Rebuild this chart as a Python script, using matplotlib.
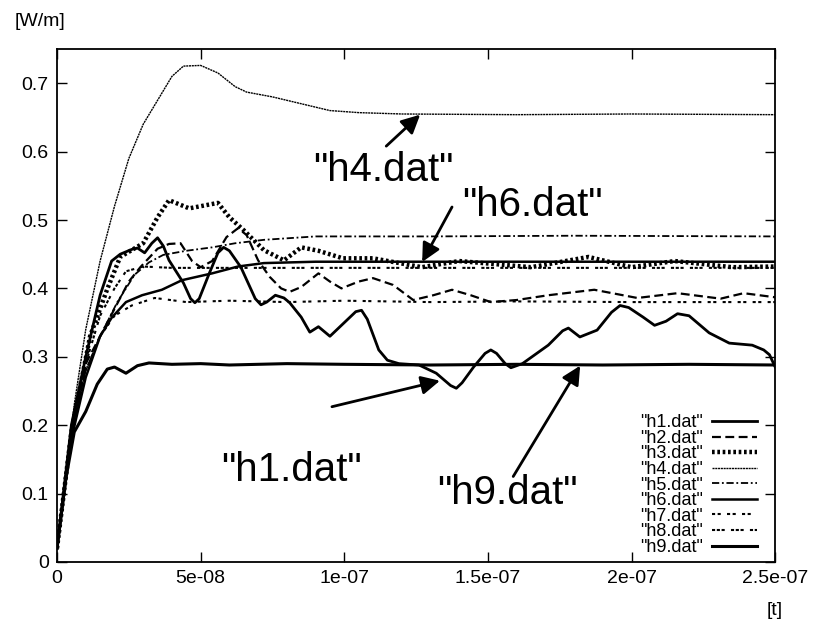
import matplotlib
matplotlib.use('Agg')
import matplotlib.pyplot as plt

plt.rcParams['font.family'] = ['Liberation Sans', 'DejaVu Sans']

# time [t] and power [W/m]
t1 = [0, 5e-9, 1e-8, 1.5e-8, 1.9e-8, 2.2e-8, 2.6e-8, 2.8e-8, 3.05e-8, 3.3e-8, 3.5e-8,
      3.7e-8, 3.9e-8, 4.4e-8, 4.65e-8, 4.8e-8, 4.95e-8, 5.3e-8, 5.6e-8, 5.8e-8, 6.0e-8,
      6.4e-8, 6.9e-8, 7.1e-8, 7.3e-8, 7.6e-8, 7.9e-8, 8.1e-8, 8.5e-8, 8.8e-8,
      9.1e-8, 9.5e-8, 1.0e-7, 1.04e-7, 1.06e-7, 1.08e-7, 1.12e-7, 1.15e-7, 1.19e-7,
      1.26e-7, 1.32e-7, 1.37e-7, 1.39e-7, 1.41e-7, 1.45e-7, 1.49e-7, 1.51e-7, 1.53e-7,
      1.56e-7, 1.58e-7, 1.62e-7, 1.71e-7, 1.76e-7, 1.78e-7, 1.82e-7, 1.88e-7,
      1.93e-7, 1.96e-7, 1.99e-7, 2.04e-7, 2.08e-7, 2.12e-7, 2.16e-7, 2.2e-7, 2.27e-7,
      2.34e-7, 2.42e-7, 2.46e-7, 2.48e-7, 2.5e-7]
h1 = [0.02, 0.20, 0.30, 0.39, 0.44, 0.45, 0.457, 0.459, 0.452, 0.466, 0.474,
      0.462, 0.441, 0.408, 0.385, 0.379, 0.385, 0.422, 0.452, 0.46, 0.455,
      0.431, 0.385, 0.376, 0.38, 0.39, 0.386, 0.379, 0.358, 0.336,
      0.344, 0.33, 0.35, 0.366, 0.368, 0.355, 0.31, 0.295, 0.29,
      0.288, 0.276, 0.258, 0.254, 0.262, 0.285, 0.305, 0.31, 0.305,
      0.29, 0.284, 0.29, 0.317, 0.338, 0.342, 0.329, 0.339,
      0.365, 0.375, 0.372, 0.358, 0.346, 0.352, 0.363, 0.36, 0.335,
      0.32, 0.317, 0.31, 0.303, 0.285]

t2 = [0, 5e-9, 1e-8, 1.5e-8, 2e-8, 2.5e-8, 2.9e-8, 3.5e-8, 3.9e-8, 4.3e-8, 4.7e-8,
      5.0e-8, 5.4e-8, 5.9e-8, 6.3e-8, 6.6e-8, 7e-8, 7.4e-8, 7.8e-8, 8.1e-8, 8.5e-8,
      9.1e-8, 9.5e-8, 9.9e-8, 1.05e-7, 1.1e-7, 1.17e-7, 1.24e-7, 1.31e-7, 1.375e-7,
      1.44e-7, 1.51e-7, 1.6e-7, 1.71e-7, 1.87e-7, 2.02e-7, 2.16e-7, 2.31e-7, 2.39e-7,
      2.5e-7]
h2 = [0.02, 0.19, 0.29, 0.33, 0.37, 0.41, 0.431, 0.458, 0.465, 0.466, 0.44,
      0.431, 0.44, 0.475, 0.488, 0.478, 0.441, 0.417, 0.4, 0.395, 0.402,
      0.422, 0.41, 0.40, 0.41, 0.415, 0.405, 0.383, 0.39, 0.398,
      0.39, 0.38, 0.383, 0.39, 0.398, 0.386, 0.393, 0.385, 0.393,
      0.387]

t3 = [0, 5e-9, 1.15e-8, 1.74e-8, 2.2e-8, 3.0e-8, 3.5e-8, 3.9e-8, 4.6e-8, 5.6e-8, 6.0e-8,
      6.5e-8, 7.2e-8, 7.9e-8, 8.5e-8, 9.1e-8, 9.95e-8, 1.1e-7, 1.27e-7, 1.4e-7, 1.65e-7,
      1.85e-7, 2.0e-7, 2.15e-7, 2.35e-7, 2.5e-7]
h3 = [0.02, 0.19, 0.33, 0.398, 0.446, 0.466, 0.504, 0.529, 0.517, 0.525, 0.504,
      0.485, 0.456, 0.441, 0.46, 0.455, 0.444, 0.444, 0.431, 0.44, 0.431,
      0.446, 0.431, 0.44, 0.431, 0.432]

t4 = [0, 3e-9, 6e-9, 1e-8, 1.5e-8, 2e-8, 2.5e-8, 3e-8, 3.5e-8, 4e-8, 4.4e-8, 5e-8,
      5.6e-8, 6.2e-8, 6.6e-8, 7.5e-8, 8.5e-8, 9.5e-8, 1.05e-7, 1.2e-7, 1.6e-7, 2e-7, 2.5e-7]
h4 = [0.02, 0.13, 0.23, 0.34, 0.44, 0.52, 0.59, 0.64, 0.675, 0.71, 0.725, 0.726,
      0.715, 0.695, 0.687, 0.68, 0.67, 0.66, 0.657, 0.655, 0.654, 0.655, 0.654]

t5 = [0, 5e-9, 1e-8, 1.5e-8, 2.1e-8, 2.7e-8, 3.2e-8, 3.7e-8, 4.5e-8, 5.4e-8, 6.2e-8,
      7.2e-8, 9e-8, 1.3e-7, 1.8e-7, 2.5e-7]
h5 = [0.02, 0.19, 0.28, 0.33, 0.38, 0.42, 0.438, 0.449, 0.455, 0.46, 0.466,
      0.471, 0.476, 0.476, 0.477, 0.476]

t6 = [0, 5e-9, 1e-8, 1.5e-8, 1.9e-8, 2.4e-8, 2.96e-8, 3.65e-8, 4.35e-8, 5.4e-8, 6.3e-8,
      7.2e-8, 9e-8, 1.2e-7, 1.8e-7, 2.5e-7]
h6 = [0.02, 0.18, 0.27, 0.33, 0.357, 0.38, 0.39, 0.398, 0.412, 0.422, 0.432,
      0.437, 0.439, 0.439, 0.439, 0.439]

t7 = [0, 5e-9, 1e-8, 1.5e-8, 2e-8, 2.6e-8, 3.4e-8, 4.5e-8, 6e-8, 8e-8, 1e-7,
      1.3e-7, 1.6e-7, 2e-7, 2.5e-7]
h7 = [0.02, 0.19, 0.28, 0.33, 0.36, 0.375, 0.386, 0.38, 0.382, 0.38, 0.382,
      0.38, 0.381, 0.38, 0.38]

t8 = [0, 5e-9, 1e-8, 1.5e-8, 2e-8, 2.4e-8, 3e-8, 4e-8, 6e-8, 1e-7, 1.5e-7, 2e-7, 2.5e-7]
h8 = [0.02, 0.19, 0.29, 0.36, 0.40, 0.425, 0.432, 0.43, 0.43, 0.43, 0.43, 0.43, 0.43]

t9 = [0, 3e-9, 6e-9, 1e-8, 1.4e-8, 1.75e-8, 2e-8, 2.4e-8, 2.8e-8, 3.2e-8, 4e-8, 5e-8,
      6e-8, 8e-8, 1e-7, 1.3e-7, 1.6e-7, 1.9e-7, 2.2e-7, 2.5e-7]
h9 = [0.02, 0.12, 0.19, 0.22, 0.26, 0.282, 0.285, 0.276, 0.287, 0.291, 0.289, 0.29,
      0.288, 0.29, 0.289, 0.288, 0.289, 0.288, 0.289, 0.288]

xticks = [0, 5e-8, 1e-7, 1.5e-7, 2e-7, 2.5e-7]
xticklabels = ['0', '5e-08', '1e-07', '1.5e-07', '2e-07', '2.5e-07']
yticks = [0, 0.1, 0.2, 0.3, 0.4, 0.5, 0.6, 0.7]
yticklabels = ['0', '0.1', '0.2', '0.3', '0.4', '0.5', '0.6', '0.7']

fig = plt.figure(figsize=(8.3, 6.22), dpi=100)
ax = fig.add_axes([0.0687, 0.0965, 0.8653, 0.8247])

ax.plot(t1, h1, color='black', lw=2.0, label='"h1.dat"')
ax.plot(t2, h2, color='black', lw=1.6, dashes=(4, 2), label='"h2.dat"')
ax.plot(t3, h3, color='black', lw=3.2, dashes=(0.6, 0.6), label='"h3.dat"')
ax.plot(t4, h4, color='black', lw=1.0, dashes=(1.5, 0.5), label='"h4.dat"')
ax.plot(t5, h5, color='black', lw=1.3, dashes=(4, 1.5, 1, 1.5), label='"h5.dat"')
ax.plot(t6, h6, color='black', lw=1.8, label='"h6.dat"')
ax.plot(t7, h7, color='black', lw=1.5, dashes=(1.5, 1.2, 1.5, 3), label='"h7.dat"')
ax.plot(t8, h8, color='black', lw=1.5, dashes=(1.5, 0.8, 1.5, 0.8, 1.5, 3), label='"h8.dat"')
ax.plot(t9, h9, color='black', lw=2.2, label='"h9.dat"')

ax.set_xlim(0, 2.5e-7)
ax.set_ylim(0, 0.75)
ax.set_xticks(xticks)
ax.set_xticklabels(xticklabels)
ax.set_yticks(yticks)
ax.set_yticklabels(yticklabels)
ax.tick_params(direction='in', length=7, width=1, top=True, right=True,
               labelsize=14, pad=6)
for s in ax.spines.values():
    s.set_linewidth(1.3)

fig.text(0.018, 0.965, '[W/m]', fontsize=14, ha='left', va='center')
fig.text(0.933, 0.018, '[t]', fontsize=14, ha='center', va='center')

leg = ax.legend(loc='lower right', bbox_to_anchor=(0.975, 0.012), frameon=False,
                markerfirst=False, fontsize=13, handlelength=2.5, handletextpad=0.5,
                labelspacing=-0.08, borderpad=0, borderaxespad=0)
for txt in leg.get_texts():
    txt.set_ha('right')

arrow = dict(arrowstyle='-|>', color='black', lw=2, mutation_scale=28,
             shrinkA=0, shrinkB=0)
ax.annotate('', xy=(1.264e-7, 0.654), xytext=(1.146e-7, 0.608), arrowprops=arrow)
ax.text(1.135e-7, 0.573, '"h4.dat"', fontsize=29, ha='center', va='center')
ax.annotate('', xy=(1.271e-7, 0.4386), xytext=(1.375e-7, 0.519), arrowprops=arrow)
ax.text(1.654e-7, 0.522, '"h6.dat"', fontsize=29, ha='center', va='center')
ax.annotate('', xy=(1.333e-7, 0.265), xytext=(9.57e-8, 0.227), arrowprops=arrow)
ax.text(8.15e-8, 0.134, '"h1.dat"', fontsize=29, ha='center', va='center')
ax.annotate('', xy=(1.821e-7, 0.287), xytext=(1.588e-7, 0.125), arrowprops=arrow)
ax.text(1.567e-7, 0.101, '"h9.dat"', fontsize=29, ha='center', va='center')

fig.savefig('out.png', dpi=100)
